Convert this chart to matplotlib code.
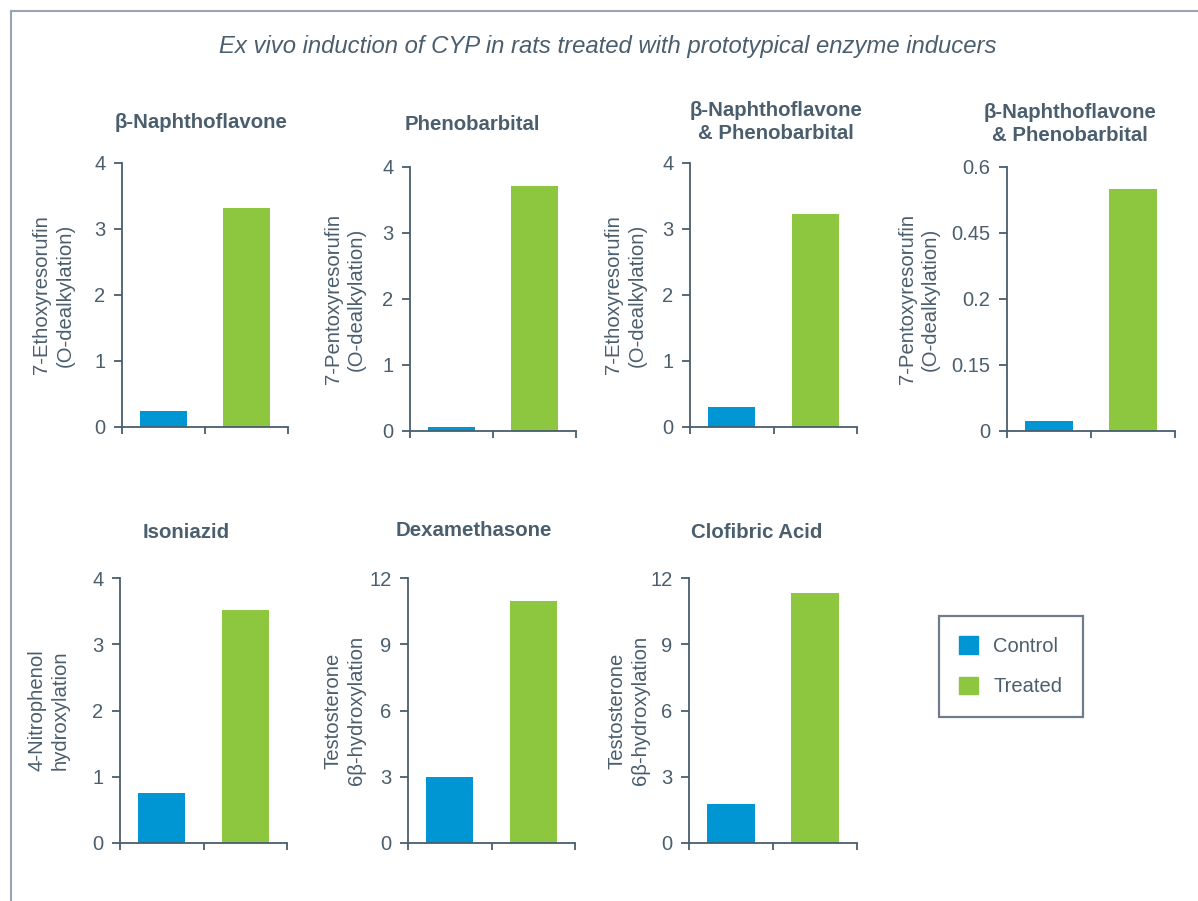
import matplotlib
matplotlib.use("Agg")
import matplotlib.pyplot as plt
from matplotlib.patches import Patch
from matplotlib.lines import Line2D

plt.rcParams["font.family"] = ["Liberation Sans", "DejaVu Sans"]

# data
groepen = ["Control", "Treated"]
titels = ["β-Naphthoflavone", "Phenobarbital", "β-Naphthoflavone\n& Phenobarbital",
          "β-Naphthoflavone\n& Phenobarbital", "Isoniazid", "Dexamethasone", "Clofibric Acid"]
ylabels = ["7-Ethoxyresorufin\n(O-dealkylation)",
           "7-Pentoxyresorufin\n(O-dealkylation)",
           "7-Ethoxyresorufin\n(O-dealkylation)",
           "7-Pentoxyresorufin\n(O-dealkylation)",
           "4-Nitrophenol\nhydroxylation",
           "Testosterone\n6β-hydroxylation",
           "Testosterone\n6β-hydroxylation"]
control = [0.24, 0.06, 0.30, 0.023, 0.75, 2.98, 1.76]
treated = [3.32, 3.71, 3.23, 0.55, 3.52, 10.96, 11.32]
yticks = [[0, 1, 2, 3, 4], [0, 1, 2, 3, 4], [0, 1, 2, 3, 4],
          [0, 0.15, 0.3, 0.45, 0.6], [0, 1, 2, 3, 4],
          [0, 3, 6, 9, 12], [0, 3, 6, 9, 12]]
ytick_labels = [["0", "1", "2", "3", "4"], ["0", "1", "2", "3", "4"], ["0", "1", "2", "3", "4"],
                ["0", "0.15", "0.2", "0.45", "0.6"], ["0", "1", "2", "3", "4"],
                ["0", "3", "6", "9", "12"], ["0", "3", "6", "9", "12"]]

kleuren = ["#0096d3", "#8dc63f"]
tekst = "#4b5e6d"
as_kleur = "#4a5d6c"

W, H = 1198, 901
fig = plt.figure(figsize=(W / 100, H / 100), dpi=100)

# panel boxes in pixels: left, right, top, bottom
vakken = [(122, 288, 163, 427), (410, 576, 167, 431), (690, 857, 163, 427),
          (1007, 1175, 167, 431), (120, 287, 578, 843), (408, 575, 578, 843),
          (689, 857, 578, 843)]
titel_pos = [(201, 122), (472, 125), (776, 122), (1070, 124), (186, 533), (474, 531), (757, 532)]
# right edge of the rotated y label, in pixels
label_rechts = [75, 366, 647, 940, 70, 366, 650]

for i in range(7):
    l, r, t, b = vakken[i]
    ax = fig.add_axes([l / W, 1 - b / H, (r - l) / W, (b - t) / H])
    ax.bar([0.5, 1.5], [control[i], treated[i]], width=0.56, color=kleuren, zorder=2)
    ax.set_xlim(0, 2)
    ax.set_ylim(0, yticks[i][-1])
    ax.set_xticks([0, 1, 2])
    ax.set_xticklabels([])
    ax.set_yticks(yticks[i])
    ax.set_yticklabels(ytick_labels[i])
    for s in ["top", "right"]:
        ax.spines[s].set_visible(False)
    for s in ["left", "bottom"]:
        ax.spines[s].set_color(as_kleur)
        ax.spines[s].set_linewidth(1.3)
    ax.tick_params(axis="y", colors=as_kleur, labelcolor=tekst, labelsize=14.5,
                   length=6, width=1.3, pad=6)
    ax.tick_params(axis="x", colors=as_kleur, length=5, width=1.3)
    ax.set_ylabel(ylabels[i], fontsize=14.6, color=tekst, linespacing=1.3)
    ax.yaxis.set_label_coords((label_rechts[i] - l) / (r - l), 0.5)
    tx, ty = titel_pos[i]
    fig.text(tx / W, 1 - ty / H, titels[i], ha="center", va="center", fontsize=14.7,
             fontweight="bold", color=tekst, linespacing=1.3)

fig.text(608 / W, 1 - 47 / H, "Ex vivo induction of CYP in rats treated with prototypical enzyme inducers",
         ha="center", va="center", fontsize=17.2, style="italic", color=tekst)

handles = [Patch(color=kleuren[0], label=groepen[0]), Patch(color=kleuren[1], label=groepen[1])]
leg = fig.legend(handles=handles, loc="upper left", bbox_to_anchor=(939 / W, 1 - 616 / H),
                 borderaxespad=0, fontsize=14.5, frameon=True, fancybox=False,
                 handlelength=0.95, handleheight=0.95, handletextpad=0.75,
                 labelspacing=1.05, borderpad=1.0)
leg.get_frame().set_edgecolor(as_kleur)
leg.get_frame().set_linewidth(1.6)
for txt in leg.get_texts():
    txt.set_color(tekst)

# frame lines top and left
fig.add_artist(Line2D([11 / W, 1], [1 - 11 / H, 1 - 11 / H], color="#9aa4ae", lw=1.5))
fig.add_artist(Line2D([11 / W, 11 / W], [0, 1 - 11 / H], color="#9aa4ae", lw=1.5))

fig.savefig("out.png", dpi=100)
